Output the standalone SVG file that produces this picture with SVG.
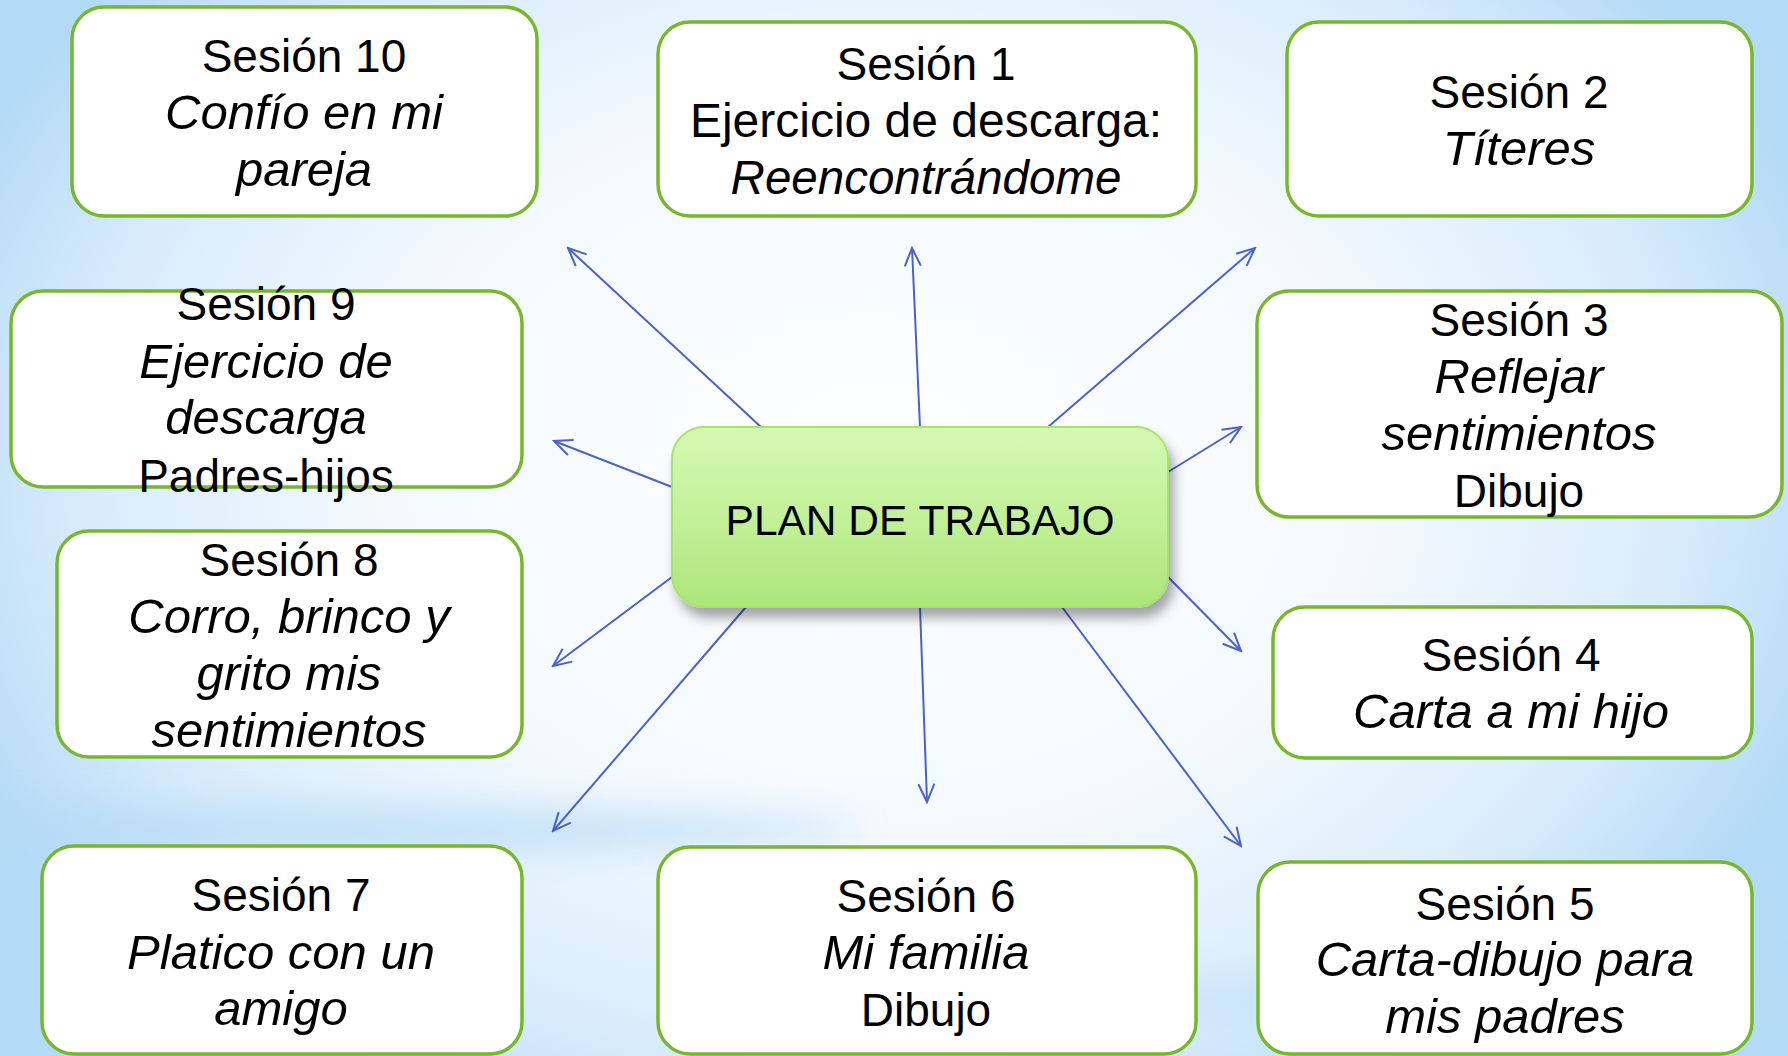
<svg xmlns="http://www.w3.org/2000/svg" width="1788" height="1056" viewBox="0 0 1788 1056">
<style>
.box{fill:#ffffff;stroke:#77b82a;stroke-width:3.5}
text{font-family:"Liberation Sans",Arial,sans-serif;font-size:46px;fill:#000;text-anchor:middle}
.it{font-style:italic;font-size:49px}
.cn{stroke:#4a62c9;stroke-width:2;fill:none;marker-end:url(#ah)}
</style>
<defs>
<radialGradient id="bg" cx="880" cy="470" r="1000" gradientUnits="userSpaceOnUse" gradientTransform="translate(880 470) scale(1 0.75) translate(-880 -470)">
<stop offset="0" stop-color="#ffffff"/>
<stop offset="0.5" stop-color="#f3f9fe"/>
<stop offset="0.8" stop-color="#d8ebfb"/>
<stop offset="1" stop-color="#b3daf6"/>
</radialGradient>
<linearGradient id="cg" x1="0" y1="0" x2="0" y2="1">
<stop offset="0" stop-color="#d5f8b2"/>
<stop offset="0.5" stop-color="#c3f098"/>
<stop offset="1" stop-color="#aae67a"/>
</linearGradient>
<filter id="sh" x="-10%" y="-10%" width="125%" height="140%">
<feDropShadow dx="5" dy="10" stdDeviation="6" flood-color="#000" flood-opacity="0.35"/>
</filter>
<filter id="blur" x="-20%" y="-100%" width="140%" height="300%">
<feGaussianBlur stdDeviation="18"/>
</filter>
<marker id="ah" viewBox="0 0 22 18" refX="20" refY="9" markerWidth="22" markerHeight="18" markerUnits="userSpaceOnUse" orient="auto">
<path d="M2,1 L20,9 L2,17" fill="none" stroke="#4a62c9" stroke-width="2"/>
</marker>
</defs>
<rect x="0" y="0" width="1788" height="1056" fill="url(#bg)"/>
<ellipse cx="300" cy="830" rx="560" ry="24" fill="#b5daf6" opacity="0.7" filter="url(#blur)"/>
<ellipse cx="1500" cy="1000" rx="420" ry="25" fill="#b9dcf6" opacity="0.5" filter="url(#blur)"/>

<g id="connectors">
<line class="cn" x1="761" y1="427" x2="568" y2="248"/>
<line class="cn" x1="920" y1="427" x2="912" y2="248"/>
<line class="cn" x1="1048" y1="427" x2="1255" y2="248"/>
<line class="cn" x1="1168" y1="472" x2="1241" y2="427"/>
<line class="cn" x1="672" y1="487" x2="554" y2="441"/>
<line class="cn" x1="672" y1="577" x2="553" y2="666"/>
<line class="cn" x1="746" y1="607" x2="553" y2="831"/>
<line class="cn" x1="920" y1="607" x2="927" y2="802"/>
<line class="cn" x1="1062" y1="607" x2="1241" y2="846"/>
<line class="cn" x1="1168" y1="577" x2="1241" y2="651"/>
</g>

<g id="plan">
<rect x="672" y="427" width="496" height="180" rx="32" fill="url(#cg)" stroke="#a5e46a" stroke-width="2" filter="url(#sh)"/>
<text x="920" y="535" style="font-size:42.5px">PLAN DE TRABAJO</text>
</g>

<g id="s10">
<rect class="box" x="72" y="7" width="465" height="209" rx="32"/>
<text x="304" y="72">Sesión 10</text>
<text class="it" x="304" y="129">Confío en mi</text>
<text class="it" x="304" y="186">pareja</text>
</g>

<g id="s1">
<rect class="box" x="658" y="22" width="538" height="194" rx="32"/>
<text x="926" y="80">Sesión 1</text>
<text x="926" y="137" style="font-size:48px">Ejercicio de descarga:</text>
<text class="it" x="926" y="194" style="font-size:47.5px">Reencontrándome</text>
</g>

<g id="s2">
<rect class="box" x="1287" y="22" width="465" height="194" rx="32"/>
<text x="1519" y="108">Sesión 2</text>
<text class="it" x="1519" y="165">Títeres</text>
</g>

<g id="s3">
<rect class="box" x="1257" y="291" width="525" height="226" rx="32"/>
<text x="1519" y="336">Sesión 3</text>
<text class="it" x="1519" y="393">Reflejar</text>
<text class="it" x="1519" y="450">sentimientos</text>
<text x="1519" y="507">Dibujo</text>
</g>

<g id="s9">
<rect class="box" x="11" y="291" width="511" height="196" rx="32"/>
<text x="266" y="320">Sesión 9</text>
<text class="it" x="266" y="378">Ejercicio de</text>
<text class="it" x="266" y="434">descarga</text>
<text x="266" y="492">Padres-hijos</text>
</g>

<g id="s8">
<rect class="box" x="57" y="531" width="465" height="226" rx="32"/>
<text x="289" y="576">Sesión 8</text>
<text class="it" x="289" y="633">Corro, brinco y</text>
<text class="it" x="289" y="690">grito mis</text>
<text class="it" x="289" y="747">sentimientos</text>
</g>

<g id="s4">
<rect class="box" x="1273" y="607" width="479" height="151" rx="32"/>
<text x="1511" y="671">Sesión 4</text>
<text class="it" x="1511" y="728">Carta a mi hijo</text>
</g>

<g id="s7">
<rect class="box" x="42" y="846" width="480" height="208" rx="32"/>
<text x="281" y="911">Sesión 7</text>
<text class="it" x="281" y="969">Platico con un</text>
<text class="it" x="281" y="1025">amigo</text>
</g>

<g id="s6">
<rect class="box" x="658" y="847" width="538" height="207" rx="32"/>
<text x="926" y="912">Sesión 6</text>
<text class="it" x="926" y="969">Mi familia</text>
<text x="926" y="1026">Dibujo</text>
</g>

<g id="s5">
<rect class="box" x="1258" y="862" width="494" height="192" rx="32"/>
<text x="1505" y="920">Sesión 5</text>
<text class="it" x="1505" y="976">Carta-dibujo para</text>
<text class="it" x="1505" y="1033">mis padres</text>
</g>
</svg>
